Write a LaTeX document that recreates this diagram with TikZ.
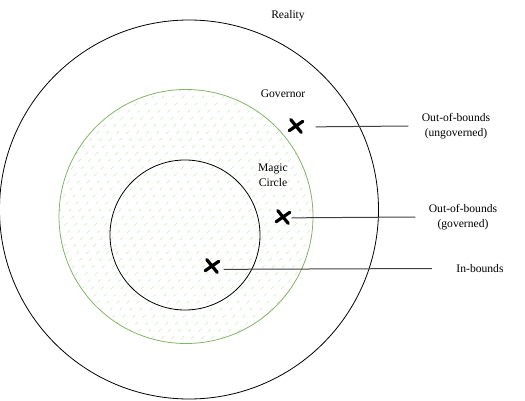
\documentclass[tikz,border=0pt]{standalone}
\usepackage{fontspec}
\setmainfont{Liberation Serif}
\usetikzlibrary{shapes.misc}
\definecolor{govgreen}{HTML}{82B366}
\definecolor{hatchgreen}{HTML}{CFE7C3}
\definecolor{leadgray}{HTML}{404040}
\tikzset{
  ring/.style={draw=black,line width=0.8pt},
  mark x/.style={cross out,draw=black,line width=3.2pt,line cap=round,minimum width=9pt,minimum height=8pt,inner sep=0pt,rotate=-8},
  leader/.style={draw=leadgray,line width=1pt},
  lbl/.style={font=\fontsize{11.6}{14.5}\selectfont,align=center}
}
\begin{document}
\begin{tikzpicture}[x=1pt,y=-1pt]
  \useasboundingbox(0,0)rectangle(525,401);
  % hatching inside the governor
  \begin{scope}
    \clip(186,216.5)circle[radius=127pt];
    \foreach \k in {-260,-250,...,420}
      \draw[hatchgreen,line width=0.6pt,dash pattern=on 4pt off 6pt](\k,360)--++(280,-280);
  \end{scope}
  \draw[ring](189,209.5)circle[radius=189.5pt];%reality
  \draw[govgreen,line width=0.8pt](186,216.5)circle[radius=127pt];%governor
  \draw[ring](185,235)circle[radius=75pt];%magic circle
  \node[lbl](reality)at(288,16){Reality};
  \node[lbl](governor)at(283,94){Governor};
  \node[lbl](magic)at(273,175){Magic\\Circle};
  \node[mark x](ungov)at(296,126){};
  \node[mark x](gov)at(283,217){};
  \node[mark x](inb)at(212,266){};
  \node[lbl](ungovtxt)at(456,126){Out-of-bounds\\(ungoverned)};
  \node[lbl](govtxt)at(463,217){Out-of-bounds\\(governed)};
  \node[lbl](inbtxt)at(480,269){In-bounds};
  \draw[leader]([xshift=13.5pt]ungov.east)--([xshift=-10pt]ungovtxt.west|-ungov.center);
  \draw[leader]([xshift=2.5pt]gov.east)--([xshift=-10pt]govtxt.west|-gov.center);
  \draw[leader]([xshift=5.5pt,yshift=-2.5pt]inb.east)--([xshift=-21pt,yshift=-2.5pt]inbtxt.west|-inb.center);
\end{tikzpicture}
\end{document}
